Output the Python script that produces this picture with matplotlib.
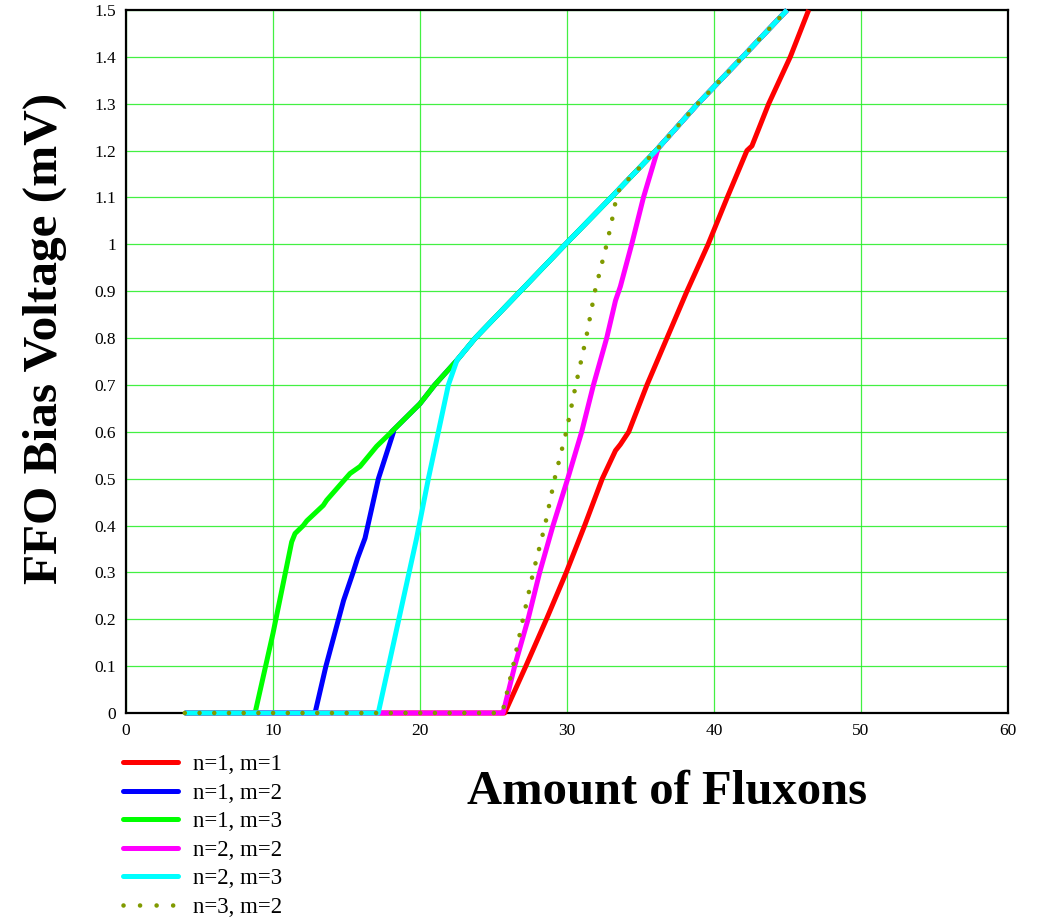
import matplotlib
matplotlib.use("Agg")
import matplotlib.pyplot as plt
from matplotlib.lines import Line2D

# Shared upper branch that the curves merge into
env_flux = [23.76, 26.83, 29.89, 33.0, 36.05, 38.9, 41.95, 44.97]
env_bias = [0.8, 0.9, 1.0, 1.1, 1.2, 1.3, 1.4, 1.5]

# n=1, m=1
flux_11 = [4.0, 25.76, 27.2, 28.6, 29.95, 31.2, 32.4, 33.3, 33.63, 34.2, 35.44,
           36.8, 38.16, 39.6, 40.9, 42.24, 42.58, 43.72, 45.19, 46.44]
bias_11 = [0, 0, 0.1, 0.2, 0.3, 0.4, 0.5, 0.56, 0.573, 0.6, 0.7,
           0.8, 0.9, 1.0, 1.1, 1.2, 1.21, 1.3, 1.4, 1.5]

# n=1, m=3 (lower part of the envelope)
flux_13 = [4.0, 8.78, 10.0, 11.27, 11.5, 12.06, 12.3, 13.42, 13.65, 15.24, 15.92,
           17.05, 18.07, 20.0, 21.0, 22.15, 22.52]
bias_13 = [0, 0, 0.17, 0.365, 0.383, 0.40, 0.41, 0.443, 0.454, 0.511, 0.526,
           0.569, 0.6, 0.66, 0.7, 0.74, 0.753]

# n=1, m=2
flux_12 = [4.0, 12.86, 13.6, 14.8, 15.45, 15.75, 16.26, 17.17, 18.2]
bias_12 = [0, 0, 0.1, 0.24, 0.30, 0.33, 0.373, 0.5, 0.6]

# n=2, m=2
flux_22 = [4.0, 25.65, 26.44, 27.35, 28.14, 29.05, 30.05, 31.0, 31.8, 32.7, 33.3,
           33.63, 34.4, 35.2, 36.2]
bias_22 = [0, 0, 0.1, 0.2, 0.3, 0.4, 0.5, 0.6, 0.7, 0.8, 0.88,
           0.91, 1.0, 1.1, 1.205]

# n=2, m=3
flux_23 = [4.0, 17.16, 19.77, 20.57, 21.25, 21.93, 22.52]
bias_23 = [0, 0, 0.373, 0.5, 0.6, 0.7, 0.753]

# n=3, m=2
flux_32 = [4.0, 25.6, 26.33, 27.0, 27.7, 28.5, 29.16, 29.95, 30.6, 31.3, 31.9,
           32.7, 33.05, 33.36, 33.6]
bias_32 = [0, 0, 0.1, 0.2, 0.3, 0.4, 0.5, 0.6, 0.7, 0.8, 0.9,
           1.0, 1.05, 1.1, 1.12]

labels = ["n=1, m=1", "n=1, m=2", "n=1, m=3", "n=2, m=2", "n=2, m=3", "n=3, m=2"]
colors = ["#ff0000", "#0000ff", "#00ff00", "#ff00ff", "#00ffff", "#809a00"]

x_ticks = [0, 10, 20, 30, 40, 50, 60]
y_ticks = [0, 0.1, 0.2, 0.3, 0.4, 0.5, 0.6, 0.7, 0.8, 0.9, 1.0, 1.1, 1.2, 1.3, 1.4, 1.5]
y_ticklabels = ["0", "0.1", "0.2", "0.3", "0.4", "0.5", "0.6", "0.7", "0.8", "0.9",
                "1", "1.1", "1.2", "1.3", "1.4", "1.5"]


def tail(flux, bias, start):
    # continue a curve along the common branch from a given bias upwards
    fx = list(flux) + [f for f, b in zip(env_flux, env_bias) if b >= start]
    by = list(bias) + [b for b in env_bias if b >= start]
    return fx, by


plt.rcParams["font.family"] = "Liberation Serif"

fig = plt.figure(figsize=(10.46, 9.18), dpi=100)
ax = fig.add_axes([126 / 1046, 1 - 713 / 918, (1008 - 126) / 1046, (713 - 10) / 918])

curves = [
    (flux_11, bias_11),
    tail(flux_12 + flux_13[12:], bias_12 + bias_13[12:], 0.8),
    tail(flux_13, bias_13, 0.8),
    tail(flux_22, bias_22, 1.3),
    tail(flux_23, bias_23, 0.8),
    tail(flux_32, bias_32, 1.2),
]

dot_style = (0, (0.01, 3.2))

for i, (fx, by) in enumerate(curves):
    if i == 5:
        ax.plot(fx, by, color=colors[i], lw=3.3, linestyle=dot_style,
                dash_capstyle="round", clip_on=False, zorder=3 + i)
    else:
        ax.plot(fx, by, color=colors[i], lw=3.6, solid_capstyle="butt",
                clip_on=False, zorder=3 + i)

ax.set_xlim(0, 60)
ax.set_ylim(0, 1.5)
ax.set_xticks(x_ticks)
ax.set_yticks(y_ticks)
ax.set_yticklabels(y_ticklabels)
ax.tick_params(length=0, labelsize=12.5, pad=7)
ax.grid(True, color="#22ee22", lw=0.9, alpha=0.85)
ax.set_axisbelow(True)
for s in ax.spines.values():
    s.set_linewidth(1.6)
    s.set_color("black")
    s.set_zorder(2)

handles = []
for i in range(6):
    if i == 5:
        handles.append(Line2D([], [], color=colors[i], lw=3.3, linestyle=(0, (0.01, 3.6)),
                              dash_capstyle="round"))
    else:
        handles.append(Line2D([], [], color=colors[i], lw=3.6, solid_capstyle="round"))

fig.legend(handles, labels, loc="upper left", bbox_to_anchor=(123 / 1046, 1 - 754 / 918),
           frameon=False, fontsize=16.5, handlelength=2.4, handletextpad=0.65,
           labelspacing=0.33, borderpad=0, borderaxespad=0)

fig.text(667 / 1046, 1 - 792 / 918, "Amount of Fluxons", ha="center", va="center",
         fontsize=35, fontweight="bold")
fig.text(45 / 1046, 1 - 338 / 918, "FFO Bias Voltage (mV)", ha="center", va="center",
         rotation=90, fontsize=35.5, fontweight="bold")

fig.savefig("out.png", dpi=100)
